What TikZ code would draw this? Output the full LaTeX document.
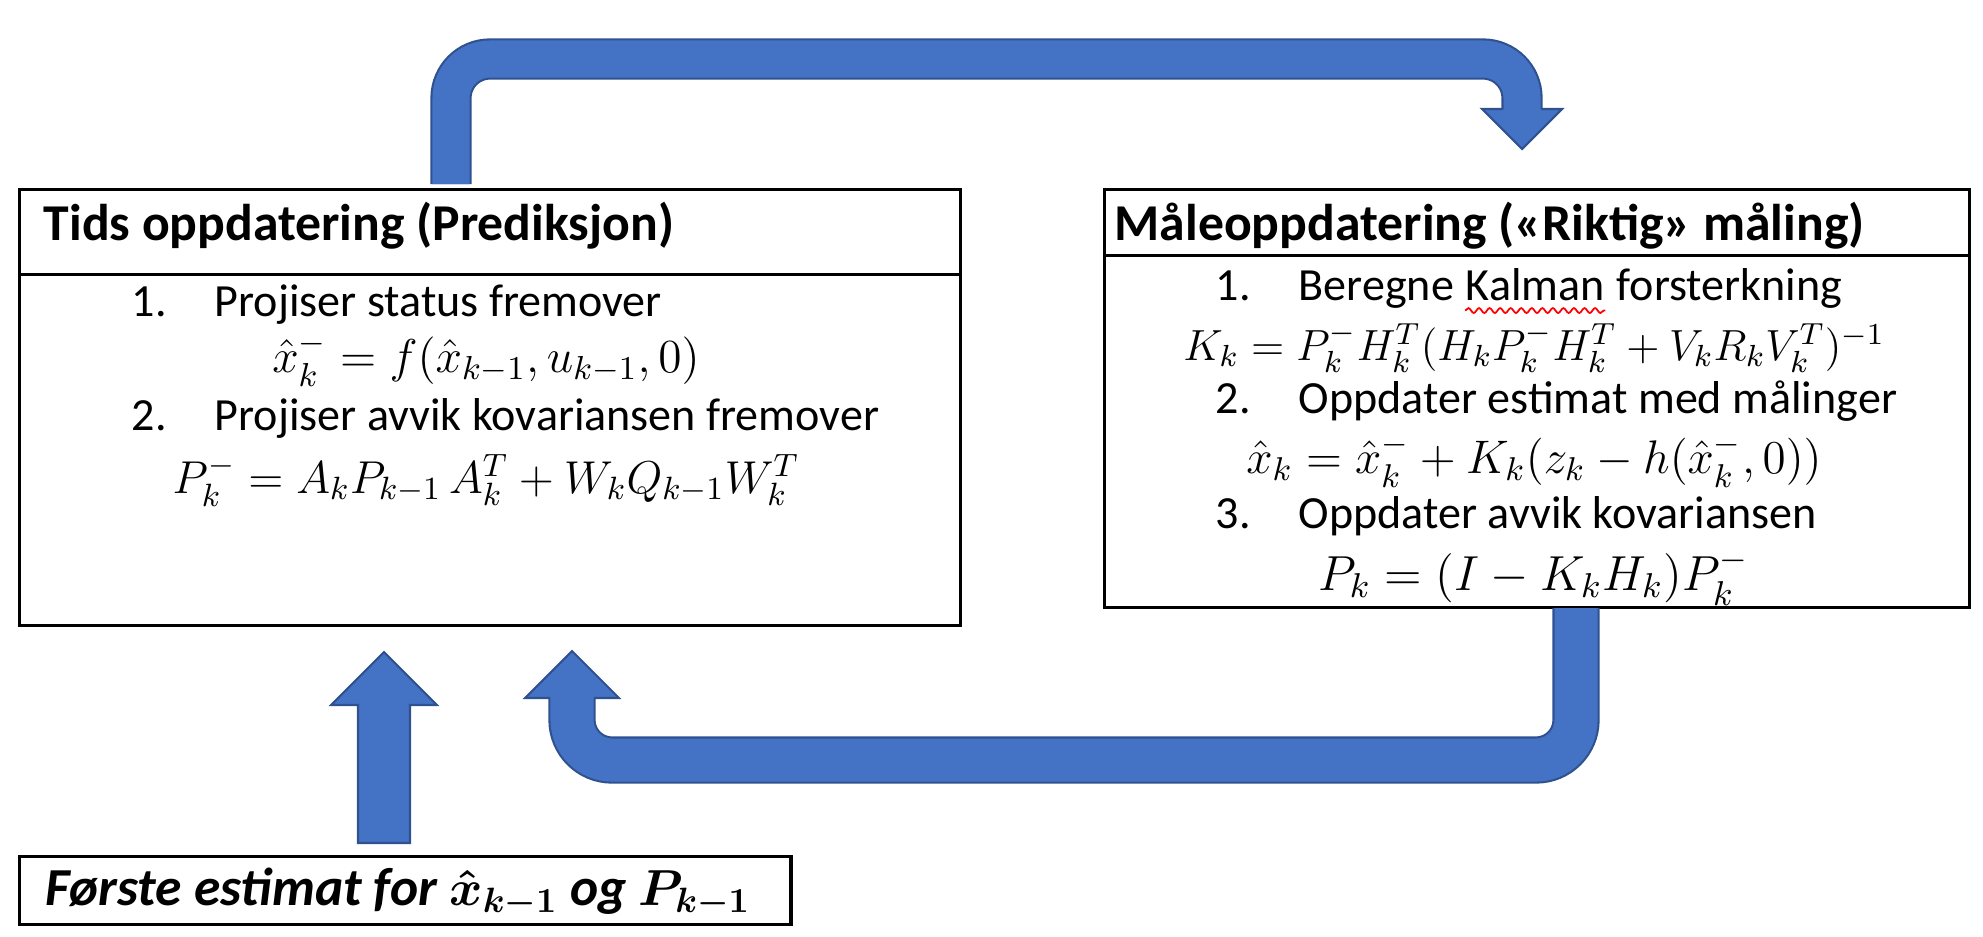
\RequirePackage{fix-cm}
\documentclass[tikz,border=0pt]{standalone}
\usepackage{fontspec}
\setmainfont{Carlito}
\usepackage{amsmath}
\usetikzlibrary{positioning,decorations.pathmorphing}

\definecolor{pilbla}{RGB}{68,114,196}
\definecolor{pilkant}{RGB}{47,82,143}

\tikzset{
  boks/.style={draw,rectangle,line width=0.9pt,inner sep=0pt,anchor=north west},
  tittel/.style={anchor=base west,inner sep=0pt,font=\fontsize{14.7}{17}\selectfont\bfseries},
  punkt/.style={anchor=base west,inner sep=0pt,font=\fontsize{13.1}{16}\selectfont},
  formel/.style={anchor=base,inner sep=0pt,font=\fontsize{13.4}{16}\selectfont},
  pilkropp/.style={draw=pilkant,line width=0.6pt,double=pilbla},
  pilfyll/.style={draw=pilkant,line width=0.6pt,fill=pilbla},
}
\newcommand{\nr}[1]{\makebox[0.83cm][l]{#1}}

\begin{document}
\begin{tikzpicture}[x=0.01cm,y=-0.01cm]
\useasboundingbox (0,0) rectangle (1983,936);

% tidsoppdatering
\node [boks,minimum width=9.40cm,minimum height=0.85cm] (tidhode) at (18,188) {};
\node [boks,minimum width=9.40cm,minimum height=3.51cm] (tidkropp) at (18,273) {};
\node [tittel] (tidtittel) at (43,240) {Tids oppdatering (Prediksjon)};
\node [punkt] (t1tekst) at (131,316) {\nr{1.}Projiser status fremover};
\node [formel,font=\fontsize{13.5}{16}\selectfont] (t1formel) at (486,372) {$\hat{x}_k^- = f(\hat{x}_{k-1}, u_{k-1}, 0)$};
\node [punkt] (t2tekst) at (131,430) {\nr{2.}Projiser avvik kovariansen fremover};
\node [formel,font=\fontsize{13.1}{16}\selectfont] (t2formel) at (486,493) {$P_k^- = A_k P_{k-1}\, A_k^T + W_k Q_{k-1} W_k^T$};

% maaleoppdatering
\node [boks,minimum width=8.64cm,minimum height=0.66cm] (maalhode) at (1103,188) {};
\node [boks,minimum width=8.64cm,minimum height=3.52cm] (maalkropp) at (1103,254) {};
\node [tittel] (maaltittel) at (1114,240) {Måleoppdatering («Riktig» måling)};
\node [punkt] (m1tekst) at (1215,300) {\nr{1.}Beregne};
\node [punkt,base right=3pt of m1tekst] (kalman) {Kalman};
\node [punkt,base right=3pt of kalman] (m1slutt) {forsterkning};
\draw [red,line width=0.5pt,decorate,decoration={snake,amplitude=0.7pt,segment length=3pt}]
  ([yshift=-3pt]kalman.base west) -- ([yshift=-3pt]kalman.base east);
\node [formel,font=\fontsize{12.4}{15}\selectfont] (m1formel) at (1534,360) {$K_k = P_k^- H_k^T (H_k P_k^- H_k^T + V_k R_k V_k^T)^{-1}$};
\node [punkt] (m2tekst) at (1215,413) {\nr{2.}Oppdater estimat med målinger};
\node [formel] (m2formel) at (1534,473) {$\hat{x}_k = \hat{x}_k^- + K_k(z_k - h(\hat{x}_k^-, 0))$};
\node [punkt] (m3tekst) at (1215,528) {\nr{3.}Oppdater avvik kovariansen};
\node [formel,font=\fontsize{14}{16}\selectfont] (m3formel) at (1534,590) {$P_k = (I - K_k H_k)P_k^-$};

% startverdi
\node [boks,minimum width=7.71cm,minimum height=0.68cm] (start) at (18,855) {};
\node [tittel,font=\fontsize{15.2}{17}\selectfont\bfseries\itshape] (starttekst) at (45,905)
  {Første estimat for {\fontsize{14.4}{17}\selectfont$\boldsymbol{\hat{x}_{k-1}}$} og {\fontsize{14.4}{17}\selectfont$\boldsymbol{P_{k-1}}$}};

% piler
\coordinate (p0) at (451,184);
\coordinate (p1) at (1522,109);
\draw [pilkropp,double distance=0.37cm,rounded corners=0.39cm] (p0) -- (451,59) -- (1522,59) -- (p1);
\draw [pilfyll,shift={(p1)}] (-19,0) -- (-40,0) -- (0,40) -- (40,0) -- (19,0);

\coordinate (q0) at (1576,608);
\coordinate (q1) at (572,698);
\draw [pilkropp,double distance=0.43cm,rounded corners=0.40cm] (q0) -- (1576,760) -- (572,760) -- (q1);
\draw [pilfyll,shift={(q1)}] (-22,0) -- (-47,0) -- (0,-47) -- (47,0) -- (22,0);

\coordinate (s0) at (384,843);
\coordinate (s1) at (384,652);
\draw [pilfyll] (s0) ++(-26,0) -- ++(0,-138) -- ++(-27,0) -- (s1) -- ++(53,53) -- ++(-27,0) -- ++(0,138) -- cycle;

\end{tikzpicture}
\end{document}
